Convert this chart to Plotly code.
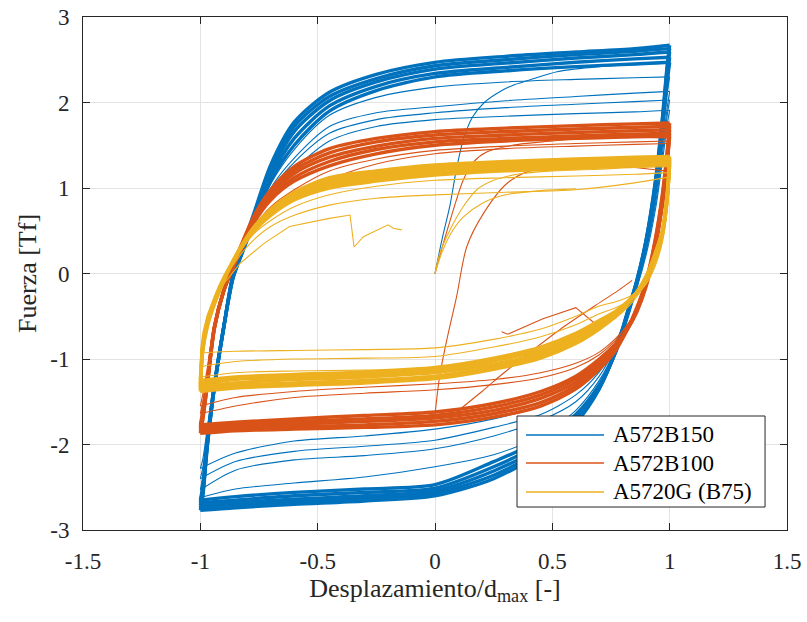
import plotly.graph_objects as go

# ---------------- data ----------------
# shared displacement grids for rising (up) and falling (down) branches
up_x = [-1.0, -0.99, -0.97, -0.94, -0.90, -0.86, -0.82, -0.77, -0.70, -0.60, -0.45, -0.25, 0.0, 0.3, 0.6, 0.85, 1.0]
dn_x = [1.0, 0.99, 0.97, 0.94, 0.90, 0.86, 0.82, 0.77, 0.70, 0.60, 0.45, 0.25, 0.0, -0.3, -0.6, -0.85, -1.0]

# A572B150 (blue) - dense band of stable cycles
b150_band_up = [
    [-2.77, -2.62, -2.02, -1.33, -0.62, 0.00, 0.32, 0.72, 1.27, 1.77, 2.12, 2.33, 2.47, 2.54, 2.59, 2.63, 2.67],
    [-2.74, -2.59, -2.00, -1.33, -0.63, -0.01, 0.30, 0.69, 1.22, 1.72, 2.07, 2.28, 2.43, 2.50, 2.56, 2.60, 2.63],
    [-2.71, -2.56, -1.99, -1.32, -0.63, -0.02, 0.29, 0.67, 1.18, 1.66, 2.02, 2.24, 2.39, 2.46, 2.52, 2.56, 2.59],
    [-2.68, -2.53, -1.97, -1.31, -0.62, -0.04, 0.27, 0.65, 1.13, 1.58, 1.96, 2.19, 2.34, 2.41, 2.47, 2.51, 2.53],
    [-2.65, -2.50, -1.95, -1.30, -0.62, -0.05, 0.25, 0.62, 1.08, 1.50, 1.90, 2.14, 2.30, 2.37, 2.42, 2.45, 2.47],
]
b150_band_dn = [
    [2.67, 2.45, 1.85, 1.10, 0.40, -0.08, -0.45, -0.90, -1.35, -1.75, -2.10, -2.40, -2.60, -2.66, -2.70, -2.74, -2.77],
    [2.63, 2.41, 1.82, 1.08, 0.39, -0.09, -0.46, -0.90, -1.34, -1.73, -2.07, -2.36, -2.57, -2.63, -2.67, -2.71, -2.74],
    [2.59, 2.37, 1.78, 1.05, 0.38, -0.10, -0.47, -0.91, -1.33, -1.71, -2.03, -2.31, -2.54, -2.60, -2.64, -2.68, -2.71],
    [2.53, 2.31, 1.74, 1.03, 0.37, -0.11, -0.48, -0.91, -1.32, -1.68, -1.99, -2.26, -2.51, -2.56, -2.60, -2.65, -2.68],
    [2.47, 2.25, 1.70, 1.00, 0.35, -0.12, -0.50, -0.92, -1.30, -1.65, -1.95, -2.20, -2.47, -2.52, -2.56, -2.61, -2.65],
]
# A572B150 early (weaker) cycles
b150_thin_up = [
    [-2.62, -2.45, -1.95, -1.30, -0.62, -0.05, 0.25, 0.62, 1.05, 1.45, 1.85, 2.06, 2.18, 2.24, 2.27, 2.29, 2.30],
    [-2.53, -2.38, -1.90, -1.28, -0.62, -0.06, 0.24, 0.60, 1.00, 1.35, 1.72, 1.88, 1.95, 2.02, 2.07, 2.11, 2.13],
    [-2.40, -2.28, -1.85, -1.25, -0.62, -0.07, 0.23, 0.58, 0.97, 1.30, 1.64, 1.80, 1.88, 1.94, 1.98, 2.01, 2.03],
    [-2.28, -2.18, -1.80, -1.22, -0.62, -0.08, 0.22, 0.56, 0.93, 1.22, 1.55, 1.72, 1.80, 1.84, 1.87, 1.89, 1.91],
]
b150_thin_dn = [
    [2.30, 2.12, 1.65, 0.98, 0.35, -0.10, -0.48, -0.88, -1.25, -1.60, -1.90, -2.12, -2.26, -2.38, -2.45, -2.52, -2.62],
    [2.13, 1.95, 1.50, 0.88, 0.30, -0.12, -0.48, -0.85, -1.20, -1.50, -1.72, -1.90, -2.05, -2.13, -2.18, -2.30, -2.53],
    [2.03, 1.86, 1.42, 0.82, 0.26, -0.15, -0.48, -0.83, -1.15, -1.42, -1.65, -1.80, -1.95, -2.02, -2.08, -2.20, -2.40],
    [1.91, 1.75, 1.33, 0.76, 0.22, -0.17, -0.48, -0.80, -1.10, -1.36, -1.55, -1.70, -1.82, -1.90, -1.96, -2.10, -2.28],
]
b150_virgin_x = [0.0, 0.03, 0.064, 0.09, 0.12, 0.16, 0.21, 0.26, 0.33, 0.40, 0.52, 0.70, 1.0]
b150_virgin_y = [0.0, 0.40, 0.80, 1.20, 1.56, 1.83, 2.00, 2.10, 2.20, 2.26, 2.36, 2.42, 2.46]

# A572B100 (orange)
b100_band_up = [
    [-1.87, -1.72, -1.30, -0.64, -0.20, 0.10, 0.37, 0.68, 0.98, 1.25, 1.46, 1.58, 1.66, 1.70, 1.73, 1.75, 1.76],
    [-1.85, -1.70, -1.29, -0.64, -0.20, 0.09, 0.36, 0.66, 0.95, 1.21, 1.41, 1.54, 1.62, 1.66, 1.69, 1.71, 1.72],
    [-1.82, -1.67, -1.28, -0.63, -0.20, 0.09, 0.35, 0.64, 0.92, 1.17, 1.36, 1.49, 1.58, 1.62, 1.65, 1.67, 1.68],
    [-1.80, -1.65, -1.26, -0.63, -0.20, 0.08, 0.33, 0.62, 0.89, 1.12, 1.31, 1.45, 1.54, 1.58, 1.61, 1.63, 1.64],
    [-1.77, -1.62, -1.25, -0.62, -0.20, 0.07, 0.32, 0.60, 0.86, 1.08, 1.26, 1.40, 1.50, 1.55, 1.58, 1.60, 1.60],
]
b100_band_dn = [
    [1.76, 1.45, 0.95, 0.42, -0.08, -0.40, -0.65, -0.90, -1.12, -1.35, -1.55, -1.68, -1.77, -1.80, -1.82, -1.84, -1.87],
    [1.72, 1.41, 0.92, 0.40, -0.10, -0.41, -0.65, -0.88, -1.09, -1.31, -1.51, -1.64, -1.73, -1.77, -1.79, -1.81, -1.85],
    [1.68, 1.37, 0.89, 0.37, -0.11, -0.42, -0.65, -0.86, -1.06, -1.27, -1.46, -1.60, -1.69, -1.73, -1.76, -1.79, -1.82],
    [1.64, 1.34, 0.86, 0.35, -0.13, -0.44, -0.65, -0.84, -1.03, -1.23, -1.42, -1.56, -1.66, -1.70, -1.73, -1.76, -1.80],
    [1.60, 1.30, 0.82, 0.32, -0.15, -0.45, -0.65, -0.82, -1.00, -1.20, -1.38, -1.52, -1.62, -1.66, -1.70, -1.74, -1.77],
]
b100_thin_up = [
    [-1.64, -1.50, -1.15, -0.60, -0.20, 0.06, 0.30, 0.55, 0.78, 0.98, 1.20, 1.34, 1.44, 1.49, 1.52, 1.54, 1.55],
    [-1.55, -1.42, -1.10, -0.58, -0.20, 0.05, 0.28, 0.50, 0.72, 0.90, 1.10, 1.28, 1.40, 1.46, 1.49, 1.51, 1.52],
]
b100_thin_dn = [
    [1.55, 1.25, 0.78, 0.30, -0.15, -0.42, -0.60, -0.78, -0.95, -1.10, -1.22, -1.30, -1.36, -1.40, -1.45, -1.55, -1.64],
    [1.52, 1.22, 0.76, 0.28, -0.16, -0.42, -0.60, -0.76, -0.92, -1.05, -1.16, -1.24, -1.29, -1.33, -1.38, -1.45, -1.55],
]
b100_virgin_x = [0.0, 0.03, 0.06, 0.09, 0.12, 0.163, 0.22, 0.33, 0.50, 0.70]
b100_virgin_y = [0.0, 0.30, 0.58, 0.85, 1.09, 1.30, 1.42, 1.50, 1.55, 1.60]
b100_reload_x = [0.0, 0.02, 0.05, 0.092, 0.135, 0.206, 0.305, 0.405, 0.55, 0.70, 0.85, 0.98]
b100_reload_y = [-1.65, -1.20, -0.78, -0.27, 0.31, 0.70, 1.05, 1.20, 1.24, 1.25, 1.24, 1.20]
b100_diag_x = [0.092, 0.20, 0.29, 0.42, 0.55, 0.68, 0.78, 0.84]
b100_diag_y = [-1.62, -1.38, -1.17, -0.89, -0.62, -0.38, -0.20, -0.08]
b100_zig_x = [0.284, 0.31, 0.46, 0.60, 0.675]
b100_zig_y = [-0.68, -0.71, -0.53, -0.40, -0.57]

# A5720G (B75) (yellow)
b75_band_up = [
    [-1.38, -0.92, -0.62, -0.36, -0.09, 0.15, 0.35, 0.55, 0.75, 0.95, 1.12, 1.20, 1.27, 1.31, 1.34, 1.36, 1.37],
    [-1.35, -0.90, -0.60, -0.35, -0.08, 0.15, 0.34, 0.54, 0.73, 0.93, 1.09, 1.17, 1.24, 1.28, 1.31, 1.33, 1.35],
    [-1.32, -0.88, -0.58, -0.33, -0.07, 0.15, 0.33, 0.52, 0.71, 0.90, 1.06, 1.14, 1.21, 1.25, 1.28, 1.30, 1.32],
    [-1.29, -0.86, -0.56, -0.32, -0.06, 0.14, 0.33, 0.51, 0.70, 0.88, 1.03, 1.11, 1.18, 1.22, 1.25, 1.28, 1.30],
    [-1.25, -0.85, -0.55, -0.30, -0.05, 0.14, 0.32, 0.50, 0.68, 0.86, 1.00, 1.08, 1.15, 1.20, 1.23, 1.26, 1.27],
]
b75_band_dn = [
    [1.37, 0.95, 0.52, 0.25, -0.03, -0.22, -0.36, -0.50, -0.65, -0.82, -0.99, -1.12, -1.23, -1.28, -1.31, -1.34, -1.38],
    [1.35, 0.93, 0.51, 0.24, -0.04, -0.22, -0.35, -0.48, -0.63, -0.79, -0.96, -1.09, -1.20, -1.25, -1.28, -1.31, -1.35],
    [1.32, 0.91, 0.50, 0.23, -0.04, -0.22, -0.34, -0.47, -0.60, -0.76, -0.93, -1.06, -1.16, -1.21, -1.24, -1.28, -1.32],
    [1.30, 0.90, 0.48, 0.21, -0.05, -0.22, -0.34, -0.45, -0.58, -0.73, -0.90, -1.02, -1.13, -1.18, -1.21, -1.24, -1.29],
    [1.27, 0.88, 0.47, 0.20, -0.06, -0.22, -0.33, -0.44, -0.55, -0.70, -0.86, -0.99, -1.10, -1.15, -1.18, -1.21, -1.25],
]
b75_thin_up = [
    [-1.21, -0.85, -0.55, -0.30, -0.06, 0.13, 0.30, 0.47, 0.62, 0.78, 0.92, 1.02, 1.09, 1.12, 1.14, 1.16, 1.18],
    [-1.09, -0.80, -0.52, -0.30, -0.07, 0.10, 0.25, 0.40, 0.55, 0.68, 0.80, 0.88, 0.92, 0.95, 0.98, 1.06, 1.13],
]
b75_thin_dn = [
    [1.18, 0.82, 0.42, 0.15, -0.10, -0.27, -0.40, -0.52, -0.65, -0.80, -0.95, -1.05, -1.12, -1.13, -1.14, -1.16, -1.21],
    [1.13, 0.78, 0.40, 0.12, -0.12, -0.25, -0.33, -0.40, -0.47, -0.60, -0.74, -0.86, -0.97, -0.99, -1.00, -1.03, -1.09],
]
b75_last_dn = [1.10, 0.75, 0.38, 0.10, -0.12, -0.22, -0.28, -0.33, -0.38, -0.50, -0.65, -0.77, -0.87, -0.89, -0.90, -0.91, -0.93]
b75_fail_x = [-1.0, -0.99, -0.97, -0.94, -0.90, -0.83, -0.73, -0.62, -0.45, -0.362, -0.345, -0.305, -0.20, -0.178, -0.142]
b75_fail_y = [-0.93, -0.70, -0.48, -0.30, -0.12, 0.12, 0.35, 0.55, 0.645, 0.684, 0.31, 0.43, 0.57, 0.53, 0.51]
b75_virgin1_x = [0.0, 0.021, 0.064, 0.12, 0.178, 0.25, 0.35, 0.50, 0.70, 0.85, 1.0]
b75_virgin1_y = [0.0, 0.24, 0.51, 0.78, 0.98, 1.09, 1.16, 1.20, 1.22, 1.24, 1.25]
b75_virgin2_x = [0.0, 0.03, 0.07, 0.12, 0.20, 0.30, 0.45, 0.60]
b75_virgin2_y = [0.0, 0.25, 0.48, 0.66, 0.82, 0.92, 0.97, 0.99]

series_names = ["A572B150", "A572B100", "A5720G (B75)"]
series_colors = ["#0072BD", "#D95319", "#EDB120"]

x_ticks = [-1.5, -1, -0.5, 0, 0.5, 1, 1.5]
x_ticktext = ["-1.5", "-1", "-0.5", "0", "0.5", "1", "1.5"]
y_ticks = [-3, -2, -1, 0, 1, 2, 3]
y_ticktext = ["-3", "-2", "-1", "0", "1", "2", "3"]


# ---------------- helpers ----------------
def loops(ups, dns):
    """each branch is its own smooth segment so the load reversals stay sharp"""
    xs, ys = [], []
    for u, d in zip(ups, dns):
        xs += up_x + [None] + dn_x + [None]
        ys += u + [None] + d + [None]
    return xs, ys


def join(*pairs):
    xs, ys = [], []
    for px, py in pairs:
        xs += list(px) + [None]
        ys += list(py) + [None]
    return xs, ys


fig = go.Figure()


def add(xs, ys, color, width, shape="spline"):
    fig.add_trace(go.Scatter(x=xs, y=ys, mode="lines", showlegend=False,
                             line=dict(color=color, width=width, shape=shape, smoothing=0.8),
                             hoverinfo="skip", connectgaps=False))


# blue
c = series_colors[0]
add(*loops(b150_thin_up, b150_thin_dn), c, 1.1)
add(*join((b150_virgin_x, b150_virgin_y)), c, 1.1)
add(*loops(b150_band_up, b150_band_dn), c, 3.4)
# orange
c = series_colors[1]
add(*loops(b100_thin_up, b100_thin_dn), c, 1.1)
add(*join((b100_virgin_x, b100_virgin_y), (b100_reload_x, b100_reload_y),
          (b100_diag_x, b100_diag_y)), c, 1.1)
add(*join((b100_zig_x, b100_zig_y)), c, 1.1, "linear")
add(*loops(b100_band_up, b100_band_dn), c, 3.4)
# yellow
c = series_colors[2]
add(*loops(b75_thin_up, b75_thin_dn), c, 1.1)
add(*join((dn_x, b75_last_dn), (b75_virgin1_x, b75_virgin1_y),
          (b75_virgin2_x, b75_virgin2_y)), c, 1.1)
add(*join((b75_fail_x, b75_fail_y)), c, 1.1, "linear")
add(*loops(b75_band_up, b75_band_dn), c, 3.4)

FONT = "Liberation Serif, Times New Roman, serif"
TXT = "#262626"

axis_common = dict(
    showgrid=True, gridcolor="#e3e3e3", gridwidth=1, zeroline=False,
    showline=True, linecolor=TXT, linewidth=1, mirror="ticks",
    ticks="inside", ticklen=7, tickcolor=TXT, tickwidth=1,
    tickfont=dict(family=FONT, size=23, color=TXT), automargin=False,
)

fig.update_layout(
    width=807, height=622,
    margin=dict(l=83, r=20, t=17, b=92),
    paper_bgcolor="white", plot_bgcolor="white",
    showlegend=False,
    xaxis=dict(range=[-1.5, 1.5], tickvals=x_ticks, ticktext=x_ticktext,
               title=dict(text="Desplazamiento/d<sub>max</sub> [-]",
                          font=dict(family=FONT, size=26, color=TXT), standoff=4),
               ticklabelstandoff=10, **axis_common),
    yaxis=dict(range=[-3, 3], tickvals=y_ticks, ticktext=y_ticktext,
               title=dict(text="Fuerza [Tf]",
                          font=dict(family=FONT, size=26, color=TXT), standoff=6),
               ticklabelstandoff=8, **axis_common),
)

# legend box (paper coordinates)
lx0, lx1, ly0, ly1 = 0.6165, 0.9688, 0.0448, 0.2222
shapes = [dict(type="rect", xref="paper", yref="paper", x0=lx0, x1=lx1, y0=ly0, y1=ly1,
               line=dict(color=TXT, width=1), fillcolor="white", layer="above")]
rows = [0.1852, 0.1306, 0.0741]
annotations = []
for name, col, ry in zip(series_names, series_colors, rows):
    shapes.append(dict(type="line", xref="paper", yref="paper", x0=0.6293, x1=0.7401,
                       y0=ry, y1=ry, line=dict(color=col, width=1.3), layer="above"))
    annotations.append(dict(xref="paper", yref="paper", x=0.7500, y=ry, text=name,
                            showarrow=False, xanchor="left", yanchor="middle",
                            font=dict(family=FONT, size=23, color="black")))
fig.update_layout(shapes=shapes, annotations=annotations)

# remove the default 8 px page margin so the 807x622 figure fills the window
fig.write_html("out.html", config={"displayModeBar": False},
               post_script="document.body.style.margin='0';document.body.style.overflow='hidden';")
